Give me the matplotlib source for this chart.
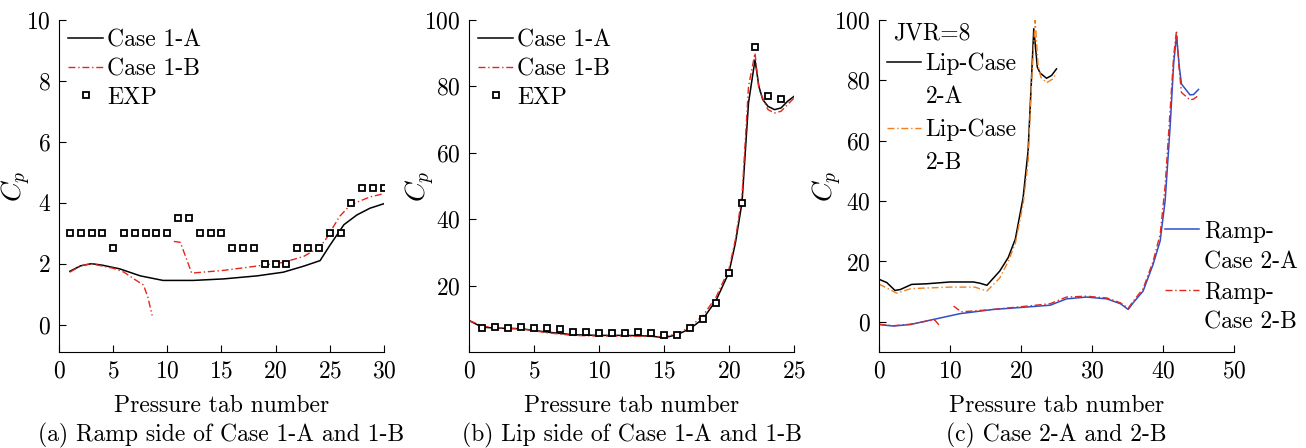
import matplotlib
matplotlib.use('Agg')
from matplotlib import pyplot as plt
from matplotlib.lines import Line2D

plt.rcParams['font.family'] = ['cmr10', 'DejaVu Serif']
plt.rcParams['mathtext.fontset'] = 'cm'
plt.rcParams['axes.unicode_minus'] = False
plt.rcParams['axes.formatter.use_mathtext'] = True

# (a) Ramp side of Case 1-A and 1-B
a_exp_x = list(range(1, 31))
a_exp_y = [3, 3, 3, 3, 2.5, 3, 3, 3, 3, 3, 3.5, 3.5, 3, 3, 3, 2.5, 2.5, 2.5,
           2, 2, 2, 2.5, 2.5, 2.5, 3, 3, 4, 4.5, 4.5, 4.5]
a_1a_x = [1, 2, 3, 4, 5.6, 7.5, 9.6, 12.4, 15.2, 18.3, 20.7, 22.6, 24.1, 25, 26.3, 27.5, 28.7, 30]
a_1a_y = [1.75, 1.93, 2.0, 1.95, 1.83, 1.6, 1.45, 1.45, 1.5, 1.6, 1.72, 1.92, 2.1, 2.6, 3.28, 3.6, 3.82, 3.97]
a_1b_x1 = [1, 2, 3, 4, 5, 6, 7, 7.8, 8.2, 8.6]
a_1b_y1 = [1.72, 1.93, 2.0, 1.92, 1.85, 1.72, 1.48, 1.3, 0.9, 0.3]
a_1b_x2 = [10.6, 11.2, 12.25, 15.2, 17.6, 20.7, 22.6, 24.1, 24.7, 25.9, 26.9, 28.7, 30]
a_1b_y2 = [2.73, 2.7, 1.69, 1.78, 1.89, 2.04, 2.24, 2.55, 2.84, 3.55, 3.93, 4.19, 4.3]

# (b) Lip side of Case 1-A and 1-B
b_exp_x = list(range(1, 25))
b_exp_y = [7.1, 7.6, 7.1, 7.6, 7.1, 7.1, 6.8, 5.9, 5.9, 5.6, 5.6, 5.6, 5.9, 5.6,
           5.1, 5.1, 7.1, 9.9, 14.9, 23.9, 44.9, 92, 77.2, 76.3]
b_1a_x = [0, 1, 2, 4, 6, 8, 10, 12, 14, 15, 16, 17, 18, 19, 20, 20.5, 21, 21.5, 22,
          22.3, 22.6, 23, 23.5, 24, 24.5, 25]
b_1a_y = [9.5, 7.5, 7.2, 7.0, 6.0, 5.2, 5.0, 5.0, 4.8, 4.3, 5.2, 7.0, 10.0, 15.5, 24,
          33, 45, 75, 88, 80, 76, 74, 73, 73.5, 75.5, 77]
b_1b_x = [0, 0.8, 1, 2, 4, 6, 8, 10, 12, 14, 15, 16, 17, 18, 19, 20, 20.5, 21, 21.5,
          22, 22.3, 23, 23.5, 24, 24.5, 25]
b_1b_y = [9.5, 8.2, 7.8, 7.3, 7.0, 5.8, 5.0, 4.8, 4.8, 4.7, 4.6, 5.5, 7.5, 11, 16.5,
          25, 34, 47, 80, 90, 79, 73, 72, 72.5, 74.5, 76.5]

# (c) Case 2-A and 2-B
c_lipa_x = [0, 1.1, 2.25, 3, 4.6, 6.7, 10, 13.3, 14.2, 15.2, 17, 18.2, 19.2, 20.3,
            21, 21.4, 21.8, 22.3, 22.7, 23.6, 24.3, 25]
c_lipa_y = [14.1, 13.0, 10.4, 10.7, 12.4, 12.6, 13.2, 13.2, 12.8, 12.1, 16.8, 21.3,
            27.4, 41.2, 56.7, 76.6, 97.1, 84.4, 82.4, 80.7, 81.6, 83.8]
c_lipb_x = [0, 2.5, 4.5, 10, 13.5, 15.2, 17, 18.2, 19.2, 20.3, 21, 21.5, 22, 22.4,
            22.8, 23.6, 24.5, 25]
c_lipb_y = [12.5, 9.5, 11, 11.5, 11.5, 10.2, 14.5, 20, 26, 39, 53, 80, 100, 85,
            81, 79.2, 80.5, 82.5]
c_rampa_x = [0, 2, 4.4, 7.7, 11.4, 16.1, 20.8, 24.1, 26.4, 29.2, 32.1, 34, 35.1,
             35.8, 37.2, 38.6, 39.6, 40.3, 41, 41.5, 41.9, 42.3, 42.6, 43.8, 44.3, 45]
c_rampa_y = [-0.9, -1.4, -0.9, 0.8, 2.7, 4.1, 4.9, 5.5, 7.6, 8.2, 7.6, 6.0, 4.1,
             6.3, 10.2, 19, 26.8, 40.1, 64.5, 85.5, 94.9, 84.4, 78.8, 75.2, 75.3, 77]
c_rampb_x1 = [0, 2, 4.4, 7.3, 7.9, 8.6]
c_rampb_y1 = [-0.8, -1.3, -0.8, 0.5, 0.5, -1.5]
c_rampb_x2 = [10.5, 11.6, 16.1, 20.8, 24.1, 26.4, 29.2, 32.1, 34, 35.1, 35.8, 37.2,
              38.6, 39.6, 40.3, 41, 41.5, 41.9, 42.3, 42.6, 43.8, 44.3, 45]
c_rampb_y2 = [5.2, 3.3, 4.1, 5.2, 6.0, 8.2, 8.5, 7.9, 6.3, 4.5, 6.8, 11, 20, 29,
              45, 70, 88, 96.5, 83, 76, 73.5, 73.8, 75]

W, H = 1306, 448
fig = plt.figure(figsize=(W / 100, H / 100), dpi=100)

FS = 17
DASHDOT = (0, (5, 2, 1, 2))
LEG_KW = dict(frameon=False, fontsize=FS, handlelength=1.45, handletextpad=0.2,
              borderpad=0.2)


def make_axes(left_px, width_px, ylab_x):
    ax = fig.add_axes([left_px / W, (H - 352) / H, width_px / W, 332 / H])
    ax.spines['top'].set_visible(False)
    ax.spines['right'].set_visible(False)
    ax.tick_params(direction='in', labelsize=FS, length=5, width=0.8, pad=6)
    ax.set_xlabel('Pressure tab number', fontsize=FS, labelpad=9)
    ax.set_ylabel('$C_p$', fontsize=20)
    ax.yaxis.set_label_coords(ylab_x, 0.5)
    return ax


def caption(ax, text):
    pos = ax.get_position()
    fig.text(pos.x0 + pos.width / 2, 1 - 435 / H, text, ha='center', va='center',
             fontsize=FS)


# Panel a
ax1 = make_axes(59, 325, -0.08)
ax1.plot(a_1a_x, a_1a_y, color='black', lw=1.1, label='Case 1-A')
ax1.plot(a_1b_x1, a_1b_y1, color='#e0281e', lw=1.0, linestyle=DASHDOT, label='Case 1-B')
ax1.plot(a_1b_x2, a_1b_y2, color='#e0281e', lw=1.0, linestyle=DASHDOT)
ax1.plot(a_exp_x, a_exp_y, linestyle='none', marker='s', ms=4.5, mfc='white',
         mec='black', mew=1.3, label='EXP')
ax1.set_xlim(0, 30)
ax1.set_ylim(-0.9, 10)
ax1.set_xticks([0, 5, 10, 15, 20, 25, 30])
ax1.set_yticks([0, 2, 4, 6, 8, 10])
ax1.legend(loc='upper left', labelspacing=0.27, borderaxespad=0.2, **LEG_KW)
caption(ax1, '(a) Ramp side of Case 1-A and 1-B')

# Panel b
ax2 = make_axes(469, 325, -0.098)
ax2.plot(b_1a_x, b_1a_y, color='black', lw=1.1, label='Case 1-A')
ax2.plot(b_1b_x, b_1b_y, color='#e0281e', lw=1.0, linestyle=DASHDOT, label='Case 1-B')
ax2.plot(b_exp_x, b_exp_y, linestyle='none', marker='s', ms=4.5, mfc='white',
         mec='black', mew=1.3, label='EXP')
ax2.set_xlim(0, 25)
ax2.set_ylim(0, 100)
ax2.set_xticks([0, 5, 10, 15, 20, 25])
ax2.set_yticks([20, 40, 60, 80, 100])
ax2.legend(loc='upper left', labelspacing=0.27, borderaxespad=0.2, **LEG_KW)
caption(ax2, '(b) Lip side of Case 1-A and 1-B')

# Panel c
ax3 = make_axes(879, 355, -0.10)
l1, = ax3.plot(c_lipa_x, c_lipa_y, color='black', lw=1.1)
l2, = ax3.plot(c_lipb_x, c_lipb_y, color='#f08020', lw=1.0, linestyle=DASHDOT)
l3, = ax3.plot(c_rampa_x, c_rampa_y, color='#2f4fc8', lw=1.1)
l4, = ax3.plot(c_rampb_x1, c_rampb_y1, color='#e0281e', lw=1.0, linestyle=DASHDOT)
ax3.plot(c_rampb_x2, c_rampb_y2, color='#e0281e', lw=1.0, linestyle=DASHDOT)
ax3.set_xlim(0, 50)
ax3.set_ylim(-10, 100)
ax3.set_xticks([0, 10, 20, 30, 40, 50])
ax3.set_yticks([0, 20, 40, 60, 80, 100])
ax3.text(0.039, 0.961, 'JVR=8', transform=ax3.transAxes, fontsize=FS, va='center')

blank = Line2D([], [], color='none')
leg1 = ax3.legend([l1, blank, l2, blank], ['Lip-Case', '2-A', 'Lip-Case', '2-B'],
                  loc='upper left', bbox_to_anchor=(0.008, 0.915), labelspacing=0.45,
                  borderaxespad=0.0, **LEG_KW)
ax3.add_artist(leg1)
ax3.legend([l3, blank, l4, blank], ['Ramp-', 'Case 2-A', 'Ramp-', 'Case 2-B'],
           loc='upper left', bbox_to_anchor=(0.792, 0.41), labelspacing=0.35,
           borderaxespad=0.0, **LEG_KW)
caption(ax3, '(c) Case 2-A and 2-B')

fig.savefig('out.png', dpi=100)
